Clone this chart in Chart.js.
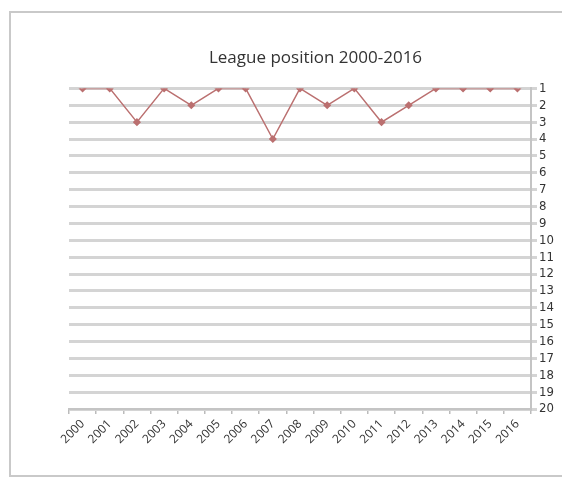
<!DOCTYPE html>
<html>
<head>
<meta charset="utf-8">
<script src="https://cdn.jsdelivr.net/npm/chart.js@4"></script>
<style>
  html, body { margin: 0; background: #fff; overflow: hidden; width: 562px; height: 477px; }
  #frame {
    position: absolute; left: 9px; top: 11px; width: 580px; height: 462px;
    border-left: 2px solid #c9c9c9; border-top: 2px solid #c9c9c9; border-bottom: 2px solid #c9c9c9;
  }
  #chart { position: absolute; left: 0; top: 0; }
</style>
</head>
<body>
<div id="frame"></div>
<canvas id="chart" width="562" height="477"></canvas>
<script>
// Season years and final league position
const years = ['2000', '2001', '2002', '2003', '2004', '2005', '2006', '2007', '2008',
               '2009', '2010', '2011', '2012', '2013', '2014', '2015', '2016'];
const positions = [1, 1, 3, 1, 2, 1, 1, 4, 1, 2, 1, 3, 2, 1, 1, 1, 1];
const positionMin = 1;
const positionMax = 20;

const lineColor = '#bb7070';
const gridColor = '#d4d4d4';
const textColor = '#333333';

const ctx = document.getElementById('chart').getContext('2d');
new Chart(ctx, {
    type: 'line',
    data: {
        labels: years,
        datasets: [{
            label: 'League position',
            data: positions,
            borderColor: lineColor,
            backgroundColor: lineColor,
            borderWidth: 1.5,
            pointStyle: 'rectRot',
            pointRadius: 3,
            pointHoverRadius: 3,
            tension: 0,
            fill: false
        }]
    },
    options: {
        responsive: false,
        animation: false,
        layout: { padding: { left: 69, top: 48, right: 0, bottom: 0 } },
        plugins: {
            legend: { display: false },
            tooltip: { enabled: false },
            title: {
                display: true,
                text: 'League position 2000-2016',
                color: textColor,
                font: { family: 'Open Sans', size: 17, weight: 'normal' },
                padding: { top: 0, bottom: 20 }
            }
        },
        scales: {
            x: {
                offset: true,
                grid: {
                    offset: true,
                    drawOnChartArea: false,
                    drawTicks: true,
                    tickLength: 5,
                    color: '#bbbbbb',
                    lineWidth: 1.5
                },
                border: { display: true, color: '#c4c4c4', width: 2 },
                ticks: {
                    color: textColor,
                    font: { family: 'Open Sans', size: 12 },
                    minRotation: 45,
                    maxRotation: 45,
                    autoSkip: false,
                    padding: 3
                },
                afterFit: (axis) => { axis.height = 68; }
            },
            y: {
                position: 'right',
                reverse: true,
                min: positionMin,
                max: positionMax,
                grid: {
                    color: gridColor,
                    lineWidth: 3,
                    tickLength: 6,
                    drawTicks: true
                },
                border: { display: true, color: '#c4c4c4', width: 2 },
                ticks: {
                    stepSize: 1,
                    autoSkip: false,
                    color: textColor,
                    font: { family: 'Liberation Sans Narrow, DejaVu Sans Condensed, sans-serif', size: 13 },
                    padding: 2
                },
                afterFit: (axis) => { axis.width = 31; }
            }
        }
    }
});
</script>
</body>
</html>
